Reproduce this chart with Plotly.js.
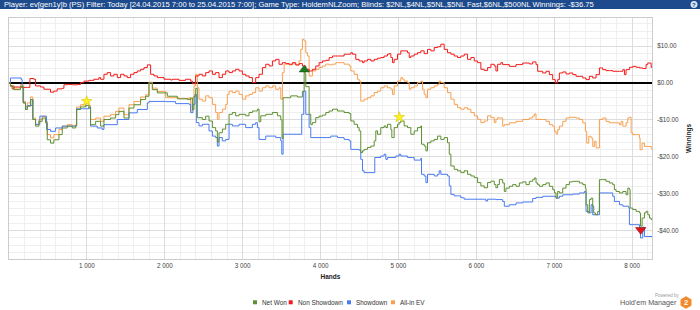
<!DOCTYPE html>
<html>
<head>
<meta charset="utf-8">
<script src="https://cdn.plot.ly/plotly-3.0.1.min.js"></script>
<style>
html,body{margin:0;padding:0;background:#fff;}
#chart{width:700px;height:310px;}
</style>
</head>
<body>
<div id="chart"></div>
<script>
// ---- Data ----
const headerText = "Player: ev[gen1y]b (PS) Filter: Today [24.04.2015 7:00 to 25.04.2015 7:00]; Game Type: HoldemNLZoom; Blinds: $2NL,$4NL,$5NL,$5NL Fast,$6NL,$500NL Winnings: -$36.75";
const seriesNames = ["Net Won", "Non Showdown", "Showdown", "All-in EV"];
const xTickVals = [1000,2000,3000,4000,5000,6000,7000,8000];
const xTickText = ["1 000","2 000","3 000","4 000","5 000","6 000","7 000","8 000"];
const yTickVals = [10,0,-10,-20,-30,-40];
const yTickText = ["$10.00","$0.00","-$10.00","-$20.00","-$30.00","-$40.00"];

const redHands = [0,19,41,62,127,169,234,268,319,341,405,448,533,576,619,683,705,748,812,876,919,962,1026,1090,1154,1176,1219,1262,1304,1347,1390,1433,1476,1518,1561,1604,1647,1690,1733,1776,1818,1861,1904,1990,2075,2097,2182,2268,2332,2354,2396,2439,2482,2525,2568,2611,2653,2696,2739,2782,2825,2868,2910,2953,2996,3039,3082,3125,3167,3210,3253,3296,3339,3382,3424,3467,3510,3553,3596,3638,3681,3724,3767,3810,3853,3895,3938,3981,4024,4067,4110,4153,4195,4217,4302,4388,4409,4452,4495,4538,4559,4602,4645,4688,4731,4773,4816,4859,4881,4902,4923,4945,4988,5030,5073,5116,5138,5159,5202,5245,5287,5330,5373,5416,5459,5502,5544,5587,5630,5673,5716,5758,5801,5844,5887,5930,5973,6016,6058,6101,6144,6187,6230,6251,6273,6315,6338,6423,6509,6595,6680,6723,6766,6787,6852,6894,6937,6980,7014,7044,7066,7109,7151,7194,7237,7280,7366,7408,7451,7494,7537,7580,7622,7665,7708,7751,7837,7880,7901,7922,7965,8008,8051,8094,8136,8179,8201,8244,8255];
const redVals = [0,-0.8,-1.6,-1.1,-1.1,-1.2,-1.2,1.2,1.0,-0.8,-1.1,-1.7,-2.5,-2.2,-1.6,-1.45,-0.5,-0.4,-0.5,-0.4,0.1,0.5,0.7,1.0,1.45,1.0,2.35,2.8,1.9,2.35,1.45,2.35,1.9,1.45,2.35,2.8,3.25,3.7,4.16,4.9,2.35,1.9,1.45,1.0,0.8,1.0,0.7,1.0,0.5,-0.2,1.9,2.35,1.9,2.8,3.25,2.35,2.8,1.45,2.35,3.25,2.8,3.25,3.7,3.25,2.35,1.9,1.45,0.1,1.45,2.35,4.16,5.06,4.6,5.96,6.4,5.06,5.5,5.24,5.06,5.5,4.88,5.24,4.6,3.7,3.25,3.7,4.6,5.5,5.96,6.14,6.87,7.3,7.3,7.3,7.8,8.2,7.8,6.4,5.96,5.5,5.96,6.4,5.96,6.4,6.7,6.9,7.3,7.8,7.95,6.9,5.5,6.4,7.8,8.7,8.7,8.2,6.9,7.3,7.8,8.2,8.7,7.95,9.1,8.7,9.6,9.8,10.5,9.1,8.2,7.8,7.3,6.9,7.3,7.8,6.4,6.9,5.96,5.5,3.7,3.4,4.16,5.06,4.6,3.25,5.06,5.5,4.97,4.5,4.97,5.4,5.15,5.7,4.97,3.16,2.7,3.16,2.26,0.9,0,0.9,2.7,2.98,2.44,2.7,2.26,1.8,1.36,0.9,1.8,1.36,2.26,4.07,3.6,3.34,3.34,3.16,3.16,3.6,2.26,3.6,4.25,4.5,4.25,4.07,3.9,4.97,5.4,4.25,4.5];

const orangeHands = [0,19,62,148,182,212,234,276,298,306,341,384,426,469,491,533,576,641,683,748,812,855,868,919,983,1026,1047,1112,1176,1219,1304,1369,1411,1476,1540,1604,1690,1754,1797,1840,1904,2011,2182,2311,2332,2354,2375,2396,2418,2439,2482,2525,2568,2611,2653,2675,2696,2739,2782,2803,2825,2868,2910,2953,2996,3039,3082,3125,3167,3210,3253,3296,3339,3382,3424,3467,3489,3510,3532,3596,3638,3681,3724,3746,3767,3789,3810,3832,3853,3895,3938,3981,4024,4067,4110,4153,4195,4217,4302,4367,4388,4431,4474,4495,4516,4559,4602,4645,4688,4731,4773,4816,4859,4902,4923,4945,4988,5030,5052,5073,5116,5138,5159,5202,5245,5287,5309,5330,5352,5373,5416,5459,5502,5523,5544,5587,5630,5673,5716,5758,5801,5844,5887,5930,5973,6016,6058,6101,6144,6187,6230,6251,6273,6295,6338,6359,6423,6509,6595,6680,6723,6745,6766,6852,6894,6937,6980,7002,7023,7044,7066,7109,7151,7194,7280,7323,7366,7400,7417,7443,7473,7494,7515,7537,7580,7622,7665,7708,7794,7837,7858,7880,7922,7944,7965,7987,8008,8051,8094,8102,8128,8158,8201,8244,8255];
const orangeVals = [0,-0.7,-1.4,-0.45,-5.0,-6.5,-5.4,-3.8,-3.8,-9.5,-11.3,-9.9,-9.0,-10.4,-14.0,-14.9,-14.0,-12.6,-11.7,-11.3,-11.6,-11.3,-6.5,-5.9,-5.4,-6.1,-9.9,-9.5,-10.4,-9.0,-8.6,-7.7,-6.8,-8.6,-5.9,-5.0,-3.8,-3.2,0.2,-1.4,-2.3,-4.0,-4.2,-4.0,-7.6,-4.0,-0.8,2.35,-1.3,-4.4,-4.9,-3.5,-4.0,-5.8,-8.0,-9.85,-8.0,-7.1,-5.8,-3.1,-2.2,-2.6,-2.2,-3.1,-4.4,-3.5,-3.1,-2.6,-1.3,-2.2,-1.3,-0.8,-1.3,-0.8,-1.7,-1.3,-4.4,2.8,5.1,4.9,5.2,4.9,6.0,9.1,11.8,11.4,8.2,7.3,1.9,3.25,3.7,4.2,4.6,5.1,4.9,5.1,5.5,5.5,5.1,4.6,3.25,2.35,1.0,0.5,-4.9,-4.4,-4.0,-3.5,-2.6,-2.2,-1.3,-0.8,-1.3,-1.7,-3.1,-0.8,0.5,1.45,1.0,0.5,0.1,-1.7,-1.3,-0.8,0.1,0.5,-1.7,-3.1,-4.0,-1.7,-1.3,-0.8,-0.4,0.5,0.1,-1.3,-2.6,-4.4,-5.8,-6.7,-7.1,-6.7,-7.1,-8.0,-8.9,-9.85,-10.75,-10.3,-8.9,-9.4,-10.75,-9.85,-9.4,-9.5,-11.7,-11.3,-10.8,-10.4,-9.9,-9.5,-9.0,-8.4,-9.9,-9.9,-10.4,-11.3,-11.7,-13.1,-13.8,-12.65,-11.7,-10.4,-9.5,-9.3,-9.5,-9.9,-10.8,-13.1,-16.3,-14.45,-14.9,-17.2,-15.8,-17.6,-9.9,-9.5,-10.4,-10.8,-10.8,-11.3,-10.4,-11.7,-10.8,-9.5,-9.3,-13.55,-14.0,-14.0,-14.9,-18.1,-16.3,-17.2,-17.2,-17.6,-18.1];

const greenHands = [0,19,62,148,182,212,234,276,298,306,341,384,426,469,491,533,576,641,683,748,812,855,868,919,983,1026,1047,1112,1176,1219,1304,1369,1411,1476,1540,1604,1690,1754,1797,1840,1904,2033,2161,2290,2332,2354,2375,2397,2418,2482,2525,2568,2611,2653,2675,2696,2739,2782,2825,2868,2910,2953,3039,3082,3125,3167,3189,3210,3232,3296,3382,3446,3489,3505,3519,3617,3703,3767,3789,3800,3810,3853,3874,3895,3938,3981,4024,4067,4110,4153,4217,4302,4367,4388,4431,4474,4495,4516,4538,4559,4602,4645,4688,4709,4731,4773,4816,4838,4859,4902,4915,4945,4988,5009,5030,5073,5116,5159,5202,5245,5287,5296,5330,5352,5373,5416,5459,5502,5544,5587,5630,5652,5673,5716,5758,5801,5844,5887,5930,5973,6016,6058,6101,6144,6187,6230,6251,6273,6295,6338,6359,6380,6423,6466,6509,6552,6595,6637,6680,6723,6745,6766,6787,6809,6852,6894,6937,6980,7002,7023,7044,7066,7109,7151,7194,7237,7280,7323,7366,7400,7408,7430,7451,7473,7494,7507,7528,7558,7580,7622,7665,7708,7751,7772,7794,7837,7880,7922,7944,7965,7974,8008,8051,8094,8107,8128,8158,8179,8201,8222,8244,8255];
const greenVals = [0,-0.9,-1.8,-0.9,-5.4,-7.2,-6.3,-4.5,-4.5,-9.9,-11.7,-10.4,-9.5,-10.8,-15.4,-16.3,-15.4,-14.0,-12.2,-11.7,-12.2,-11.7,-7.2,-6.5,-6.1,-6.8,-11.3,-10.4,-11.7,-9.9,-9.5,-8.6,-7.7,-9.5,-6.8,-5.9,-4.5,-3.6,0,-1.8,-2.7,-3.6,-4.3,-4.5,-4.1,-7.2,-3.6,-1.5,-9.4,-9.9,-9.0,-10.3,-12.1,-13.0,-16.0,-13.5,-12.5,-11.2,-8.5,-8.0,-8.9,-8.5,-8.9,-8.0,-7.6,-7.6,-7.1,-10.5,-8.9,-8.5,-8.0,-8.9,-10.0,-15.0,-4.0,-3.5,-3.8,-2.3,3.0,2.5,-1.0,-8.5,-11.3,-10.75,-9.4,-9.0,-8.7,-8.0,-7.6,-7.1,-7.6,-8.0,-8.3,-10.3,-11.2,-12.1,-13.0,-18.9,-18.4,-18.0,-17.5,-17.1,-15.7,-13.0,-13.9,-12.1,-11.65,-12.1,-11.2,-12.6,-14.8,-12.1,-11.2,-10.75,-10.3,-11.65,-12.1,-13.9,-13.0,-12.1,-11.65,-16.6,-17.1,-18.4,-16.2,-15.7,-15.3,-14.4,-15.3,-14.8,-16.2,-19.3,-22.5,-23.4,-23.8,-24.3,-23.8,-24.75,-25.2,-25.65,-27.0,-27.9,-28.4,-27.0,-26.6,-27.5,-28.4,-27.5,-26.2,-27.1,-29.4,-28.5,-28.0,-27.55,-28.0,-27.1,-26.8,-27.55,-26.65,-26.2,-25.75,-27.1,-27.55,-28.0,-27.55,-27.1,-28.0,-28.9,-29.8,-31.2,-29.4,-29.8,-28.5,-27.55,-26.8,-26.65,-26.65,-27.1,-27.55,-28.5,-33.0,-35.2,-31.6,-31.2,-33.4,-35.2,-35.7,-34.8,-26.2,-26.2,-26.65,-27.1,-27.55,-28.9,-29.4,-29.8,-29.4,-30.3,-28.5,-28.9,-33.9,-34.3,-34.8,-35.2,-38.8,-36.6,-35.2,-34.8,-35.7,-36.6,-37.0,-36.75];

const blueHands = [0,19,127,157,169,182,212,234,298,306,341,396,461,482,533,598,683,855,868,1026,1047,1133,1197,1219,1390,1540,1647,1776,1797,2011,2139,2311,2332,2362,2388,2405,2439,2482,2568,2611,2653,2675,2696,2739,2782,2825,2868,2953,3039,3125,3167,3189,3210,3296,3424,3489,3502,3519,3724,3758,3784,3810,3853,3874,4110,4131,4217,4302,4367,4388,4495,4516,4538,4559,4688,4696,4773,4816,4838,4859,4902,4966,5009,5030,5116,5180,5202,5287,5296,5330,5352,5373,5459,5502,5523,5544,5630,5652,5673,5716,5758,5801,5844,5930,6101,6122,6144,6252,6338,6359,6423,6509,6595,6680,6723,6766,6852,6937,7023,7066,7109,7237,7323,7387,7408,7451,7473,7494,7537,7580,7708,7751,7772,7837,7880,7957,7965,8051,8094,8107,8136,8158,8255];
const blueVals = [0,1.35,1.35,0.9,-1.35,-5.4,-7.2,-6.1,-4.5,-9.9,-11.2,-9.0,-9.0,-12.6,-13.1,-12.2,-11.7,-11.6,-7.0,-6.5,-11.7,-12.2,-12.6,-11.3,-9.9,-8.1,-7.2,-5.4,-5.0,-5.06,-5.6,-5.78,-8.04,-5.78,-3.1,-10.75,-11.65,-11.2,-13.0,-14.4,-14.8,-17.1,-14.8,-15.7,-15.3,-11.2,-11.65,-11.2,-12.1,-11.2,-10.75,-12.1,-15.3,-14.4,-14.8,-15.7,-19.3,-13.9,-13.9,-8.5,-2.2,-8.5,-12.1,-14.8,-14.8,-14.4,-14.8,-15.3,-15.7,-18.0,-18.2,-20.7,-23.8,-24.3,-24.3,-20.2,-19.8,-19.3,-20.7,-20.2,-20.2,-19.8,-19.3,-19.8,-20.2,-20.2,-20.9,-20.4,-24.75,-25.2,-27.0,-24.75,-25.2,-24.75,-23.8,-24.75,-25.2,-27.9,-30.2,-30.6,-30.6,-31.1,-31.5,-31.5,-31.5,-32.0,-31.5,-31.6,-32.1,-33.4,-33.0,-32.5,-32.25,-32.25,-31.3,-31.0,-30.7,-30.7,-31.2,-30.7,-30.3,-30.1,-29.8,-29.4,-34.8,-35.2,-33.0,-35.7,-35.7,-29.8,-29.8,-30.7,-32.1,-33.0,-33.4,-33.9,-38.4,-38.4,-39.1,-42.0,-39.1,-41.6,-41.8];

const starHands = [997, 5011];
const starVals = [-4.96, -9.3];
const upHands = [3791];
const upVals = [3.6];
const downHands = [8110];
const downVals = [-39.8];

// ---- Styles ----
const C = {green:"#5f8f31", red:"#f21b1b", blue:"#4a7bef", orange:"#f8a050"};
const FONT = "Liberation Sans, Arial, sans-serif";

function lineTrace(x, y, name, color){
  return {x:x, y:y, name:name, type:"scatter", mode:"lines",
          line:{color:color, width:1, shape:"hv"}, hoverinfo:"skip", showlegend:false};
}

const traces = [
  lineTrace(orangeHands, orangeVals, seriesNames[3], C.orange),
  lineTrace(blueHands, blueVals, seriesNames[2], C.blue),
  lineTrace(redHands, redVals, seriesNames[1], C.red),
  lineTrace(greenHands, greenVals, seriesNames[0], C.green),
  {x:starHands, y:starVals, type:"scatter", mode:"markers", showlegend:false, hoverinfo:"skip",
   marker:{symbol:"star", size:8, color:"#fff21e", line:{color:"#d9c400", width:0.6}}},
  {x:upHands, y:upVals, type:"scatter", mode:"markers", showlegend:false, hoverinfo:"skip",
   marker:{symbol:"triangle-up", size:9, color:"#1f7a1f", line:{color:"#145214", width:0.5}}},
  {x:downHands, y:downVals, type:"scatter", mode:"markers", showlegend:false, hoverinfo:"skip",
   marker:{symbol:"triangle-down", size:9, color:"#e5161a", line:{color:"#7a1010", width:0.6}}}
];

// px helpers for decoration placed around the plot area
const L = 9, R = 652, T = 18, B = 259;
const px = v => (v - L) / (R - L);
const py = v => (B - v) / (B - T);

const legendColors = [C.green, C.red, C.blue, C.orange];
const legendSq = [255, 290.7, 349, 393];
const legendTx = [259.5, 295.5, 353.5, 397.5];
const legendY = 302.3;

const shapes = [
  {type:"rect", xref:"paper", yref:"paper", x0:px(0), x1:px(700), y0:py(9), y1:py(0),
   fillcolor:"#1d4a8c", line:{width:0}, layer:"above"},
  {type:"circle", xref:"paper", yref:"paper", x0:px(690.5), x1:px(697.5), y0:py(8), y1:py(1),
   fillcolor:"#d6e4f6", line:{width:0}}
];
legendColors.forEach((c,i)=>{
  shapes.push({type:"rect", xref:"paper", yref:"paper",
    x0:px(legendSq[i]-2), x1:px(legendSq[i]+2), y0:py(legendY+2), y1:py(legendY-2),
    fillcolor:c, line:{width:0}});
});
// HM2 hexagon logo
const hx = 686, hy = 302.5, hr = 6;
const hexPts = [[hx,hy-hr],[hx+hr*0.866,hy-hr/2],[hx+hr*0.866,hy+hr/2],[hx,hy+hr],[hx-hr*0.866,hy+hr/2],[hx-hr*0.866,hy-hr/2]];
shapes.push({type:"path", xref:"paper", yref:"paper",
  path:"M"+hexPts.map(p=>px(p[0])+","+py(p[1])).join(" L")+" Z",
  fillcolor:"#f08a2c", line:{color:"#f08a2c", width:0.5}});

const annotations = [
  {text:headerText, xref:"paper", yref:"paper", x:px(2), y:py(4.6), xanchor:"left", yanchor:"middle",
   showarrow:false, font:{family:FONT, size:7.6, color:"#ffffff"}},
  {text:"<b>?</b>", xref:"paper", yref:"paper", x:px(694), y:py(4.6), xanchor:"center", yanchor:"middle",
   showarrow:false, font:{family:FONT, size:6, color:"#1d4a8c"}},
  {text:"Powered by", xref:"paper", yref:"paper", x:px(682), y:py(295), xanchor:"right", yanchor:"middle",
   showarrow:false, font:{family:FONT, size:4.5, color:"#9a9a9a"}},
  {text:"Hold'em Manager", xref:"paper", yref:"paper", x:px(678.5), y:py(302.5), xanchor:"right", yanchor:"middle",
   showarrow:false, font:{family:FONT, size:7.2, color:"#555555"}},
  {text:"<b>2</b>", xref:"paper", yref:"paper", x:px(686), y:py(302.5), xanchor:"center", yanchor:"middle",
   showarrow:false, font:{family:FONT, size:7.5, color:"#ffffff"}}
];
seriesNames.forEach((n,i)=>{
  annotations.push({text:n, xref:"paper", yref:"paper", x:px(legendTx[i]), y:py(legendY), xanchor:"left", yanchor:"middle",
    showarrow:false, font:{family:FONT, size:6.4, color:"#333333"}});
});

const layout = {
  width:700, height:310,
  margin:{l:L, r:700-R, t:T, b:310-B, pad:0},
  paper_bgcolor:"#ffffff", plot_bgcolor:"#ffffff",
  font:{family:FONT, size:6.3, color:"#444444"},
  showlegend:false,
  xaxis:{
    range:[0, 8255], tickmode:"array", tickvals:xTickVals, ticktext:xTickText,
    showgrid:true, gridcolor:"#dcdcdc", gridwidth:1,
    minor:{tickmode:"linear", tick0:0, dtick:200, showgrid:true, gridcolor:"#efefef", gridwidth:1},
    showline:true, linecolor:"#cccccc", linewidth:1, mirror:true, zeroline:false, ticks:"",
    tickfont:{family:FONT, size:6.3, color:"#444444"},
    title:{text:"<b>Hands</b>", font:{family:FONT, size:6.5, color:"#222222"}, standoff:6}
  },
  yaxis:{
    side:"right", range:[-47.7, 17.6], tickmode:"array", tickvals:yTickVals, ticktext:yTickText,
    showgrid:true, gridcolor:"#dcdcdc", gridwidth:1,
    minor:{tickmode:"linear", tick0:0, dtick:2, showgrid:true, gridcolor:"#efefef", gridwidth:1},
    showline:true, linecolor:"#cccccc", linewidth:1, mirror:true,
    zeroline:true, zerolinecolor:"#000000", zerolinewidth:1.5, ticks:"",
    ticklabelstandoff:3,
    tickfont:{family:FONT, size:6.3, color:"#444444"},
    title:{text:"<b>Winnings</b>", font:{family:FONT, size:6.5, color:"#222222"}, standoff:8}
  },
  shapes:shapes,
  annotations:annotations
};

Plotly.newPlot("chart", traces, layout, {staticPlot:true, displayModeBar:false});
</script>
</body>
</html>
